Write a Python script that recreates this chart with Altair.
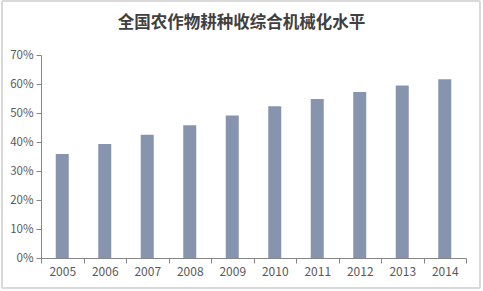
import altair as alt
import pandas as pd

years = ["2005", "2006", "2007", "2008", "2009", "2010", "2011", "2012", "2013", "2014"]
rates = [0.359, 0.393, 0.425, 0.458, 0.491, 0.523, 0.548, 0.572, 0.595, 0.616]
y_ticks = [0, 0.1, 0.2, 0.3, 0.4, 0.5, 0.6, 0.7]
title_text = "全国农作物耕种收综合机械化水平"

df = pd.DataFrame({"year": years, "rate": rates})

font = "Noto Sans CJK SC"

bars = alt.Chart(df).mark_bar(color="#8794ad", width=13).encode(
    x=alt.X("year:N", title=None, sort=years,
            scale=alt.Scale(paddingInner=0, paddingOuter=0),
            axis=alt.Axis(labelAngle=0, tickBand="extent", domainColor="#868686",
                          tickColor="#868686", tickSize=5, labelColor="#595959",
                          labelFontSize=12, labelFont=font, labelPadding=3)),
    y=alt.Y("rate:Q", title=None,
            scale=alt.Scale(domain=[0, 0.7], nice=False),
            axis=alt.Axis(values=y_ticks, format=".0%", grid=False, domainColor="#868686",
                          tickColor="#868686", tickSize=5, labelColor="#595959",
                          labelFontSize=11.5, labelFont=font, labelPadding=3)),
)

# decorative outer frame of the picture
frame = alt.Chart(df).mark_rect(fill=None, stroke="#d9d9d9", strokeWidth=1).encode(
    x=alt.value(-39), x2=alt.value(439), y=alt.value(-54), y2=alt.value(233)
)

chart = alt.layer(frame, bars).properties(
    width=425, height=203,
    background="white",
    title=alt.TitleParams(title_text, fontSize=16.5, font=font, fontWeight="bold",
                          color="#404040", anchor="middle", frame="group",
                          offset=-31, dx=-12),
    autosize=alt.AutoSizeParams(type="none"),
    padding={"left": 41, "top": 55, "right": 17, "bottom": 33},
).configure_view(stroke=None)

chart.save("out.html", embed_options={"renderer": "svg", "actions": False})
